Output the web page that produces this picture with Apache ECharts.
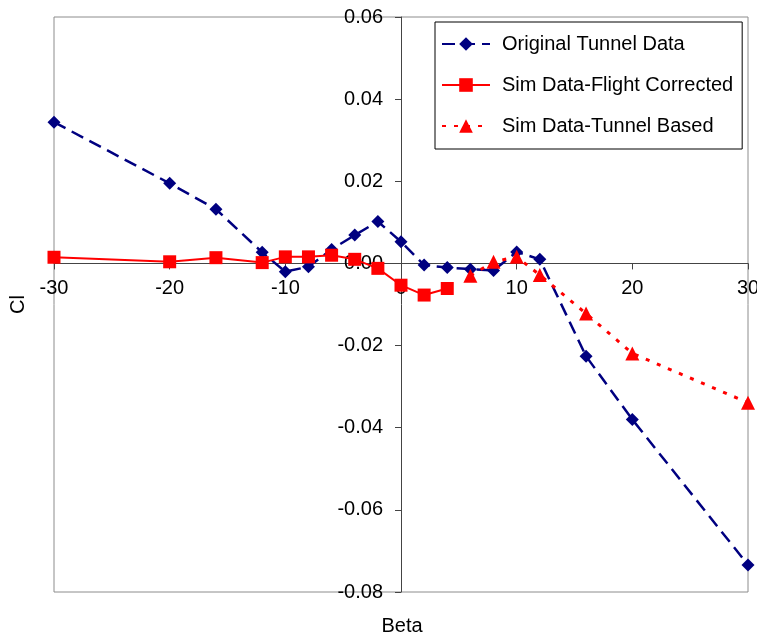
<!DOCTYPE html>
<html>
<head>
<meta charset="utf-8">
<script src="https://cdn.jsdelivr.net/npm/echarts@6/dist/echarts.min.js"></script>
<style>
  html, body { margin: 0; padding: 0; background: #fff; }
  #chart { width: 757px; height: 639px; }
</style>
</head>
<body>
<div id="chart"></div>
<script>
// Sideslip angle (deg) and rolling-moment coefficient for each data set
const betaTunnel = [-30, -20, -16, -12, -10, -8, -6, -4, -2, 0, 2, 4, 6, 8, 10, 12, 16, 20, 30];
const clTunnel = [0.0344, 0.0195, 0.0132, 0.0027, -0.0020, -0.0008, 0.0034, 0.0069, 0.0102, 0.0053,
                  -0.0004, -0.0010, -0.0014, -0.0017, 0.0028, 0.0010, -0.0226, -0.0380, -0.0734];

const betaFlight = [-30, -20, -16, -12, -10, -8, -6, -4, -2, 0, 2, 4];
const clFlight = [0.0015, 0.0004, 0.0014, 0.0002, 0.0016, 0.0016, 0.0020, 0.0010, -0.0012, -0.0053, -0.0077, -0.0061];

const betaSimTunnel = [6, 8, 10, 12, 16, 20, 30];
const clSimTunnel = [-0.0030, 0.0004, 0.0016, -0.0028, -0.0122, -0.0219, -0.0339];

const seriesNames = ['Original Tunnel Data', 'Sim Data-Flight Corrected', 'Sim Data-Tunnel Based'];

const X_MIN = -30, X_MAX = 30, Y_MIN = -0.08, Y_MAX = 0.06;

const FONT = '"Liberation Sans", Arial, sans-serif';
const pair = (xs, ys) => xs.map((x, i) => [x, ys[i]]);

// Plot rectangle
const W = 757, H = 639;
const G = { left: 54, right: 9, top: 17, bottom: 47 };
const plotW = W - G.left - G.right;
const plotH = H - G.top - G.bottom;
// Shift each axis from the grid edge onto the other axis's zero
const yAxisShift = -plotW * (0 - X_MIN) / (X_MAX - X_MIN);
const xAxisShift = -plotH * (0 - Y_MIN) / (Y_MAX - Y_MIN);

const chart = echarts.init(document.getElementById('chart'), null, { renderer: 'canvas' });

chart.setOption({
  animation: false,
  backgroundColor: '#fff',
  textStyle: { fontFamily: FONT },
  grid: {
    left: G.left, right: G.right, top: G.top, bottom: G.bottom,
    outerBoundsMode: 'none', containLabel: false,
    show: true, borderColor: '#8c8c8c', borderWidth: 1, backgroundColor: 'transparent'
  },
  xAxis: {
    type: 'value', min: X_MIN, max: X_MAX, interval: 10,
    position: 'bottom', offset: xAxisShift,
    axisLine: { onZero: false, lineStyle: { color: '#444', width: 1 } },
    axisTick: { show: true, length: 6, lineStyle: { color: '#444' } },
    axisLabel: { color: '#000', fontSize: 20, fontFamily: FONT, margin: 15, hideOverlap: false },
    splitLine: { show: false }
  },
  yAxis: {
    type: 'value', min: Y_MIN, max: Y_MAX, interval: 0.02,
    position: 'left', offset: yAxisShift,
    axisLine: { onZero: false, lineStyle: { color: '#444', width: 1 } },
    axisTick: { show: true, length: 6, lineStyle: { color: '#444' } },
    axisLabel: {
      color: '#000', fontSize: 20, fontFamily: FONT, margin: 18,
      formatter: v => v.toFixed(2)
    },
    splitLine: { show: false }
  },
  legend: {
    orient: 'vertical',
    left: 435, top: 22,
    data: seriesNames,
    backgroundColor: '#fff',
    borderColor: '#000', borderWidth: 1, borderRadius: 0,
    padding: [12, 9, 13, 6],
    itemWidth: 48, itemHeight: 17, itemGap: 21,
    textStyle: { color: '#000', fontSize: 20, fontFamily: FONT, padding: [0, 0, 0, 7] }
  },
  series: [
    {
      name: seriesNames[0], type: 'line',
      data: pair(betaTunnel, clTunnel),
      symbol: 'diamond', symbolSize: 13,
      itemStyle: { color: '#000080' },
      lineStyle: { color: '#000080', width: 2.5, type: [13, 7] },
      z: 2
    },
    {
      name: seriesNames[1], type: 'line',
      data: pair(betaFlight, clFlight),
      symbol: 'rect', symbolSize: 13,
      itemStyle: { color: '#ff0000' },
      lineStyle: { color: '#ff0000', width: 2, type: 'solid' },
      z: 3
    },
    {
      name: seriesNames[2], type: 'line',
      data: pair(betaSimTunnel, clSimTunnel),
      symbol: 'triangle', symbolSize: 14,
      itemStyle: { color: '#ff0000' },
      lineStyle: { color: '#ff0000', width: 3, type: [4, 8] },
      z: 3
    }
  ],
  graphic: [
    {
      type: 'text', x: 8, y: 314, rotation: Math.PI / 2,
      style: { text: 'Cl', fill: '#000', font: '20px ' + FONT }
    },
    {
      type: 'text', x: 402, y: 626,
      style: { text: 'Beta', fill: '#000', font: '20px ' + FONT, align: 'center', verticalAlign: 'middle' }
    }
  ]
});
</script>
</body>
</html>
